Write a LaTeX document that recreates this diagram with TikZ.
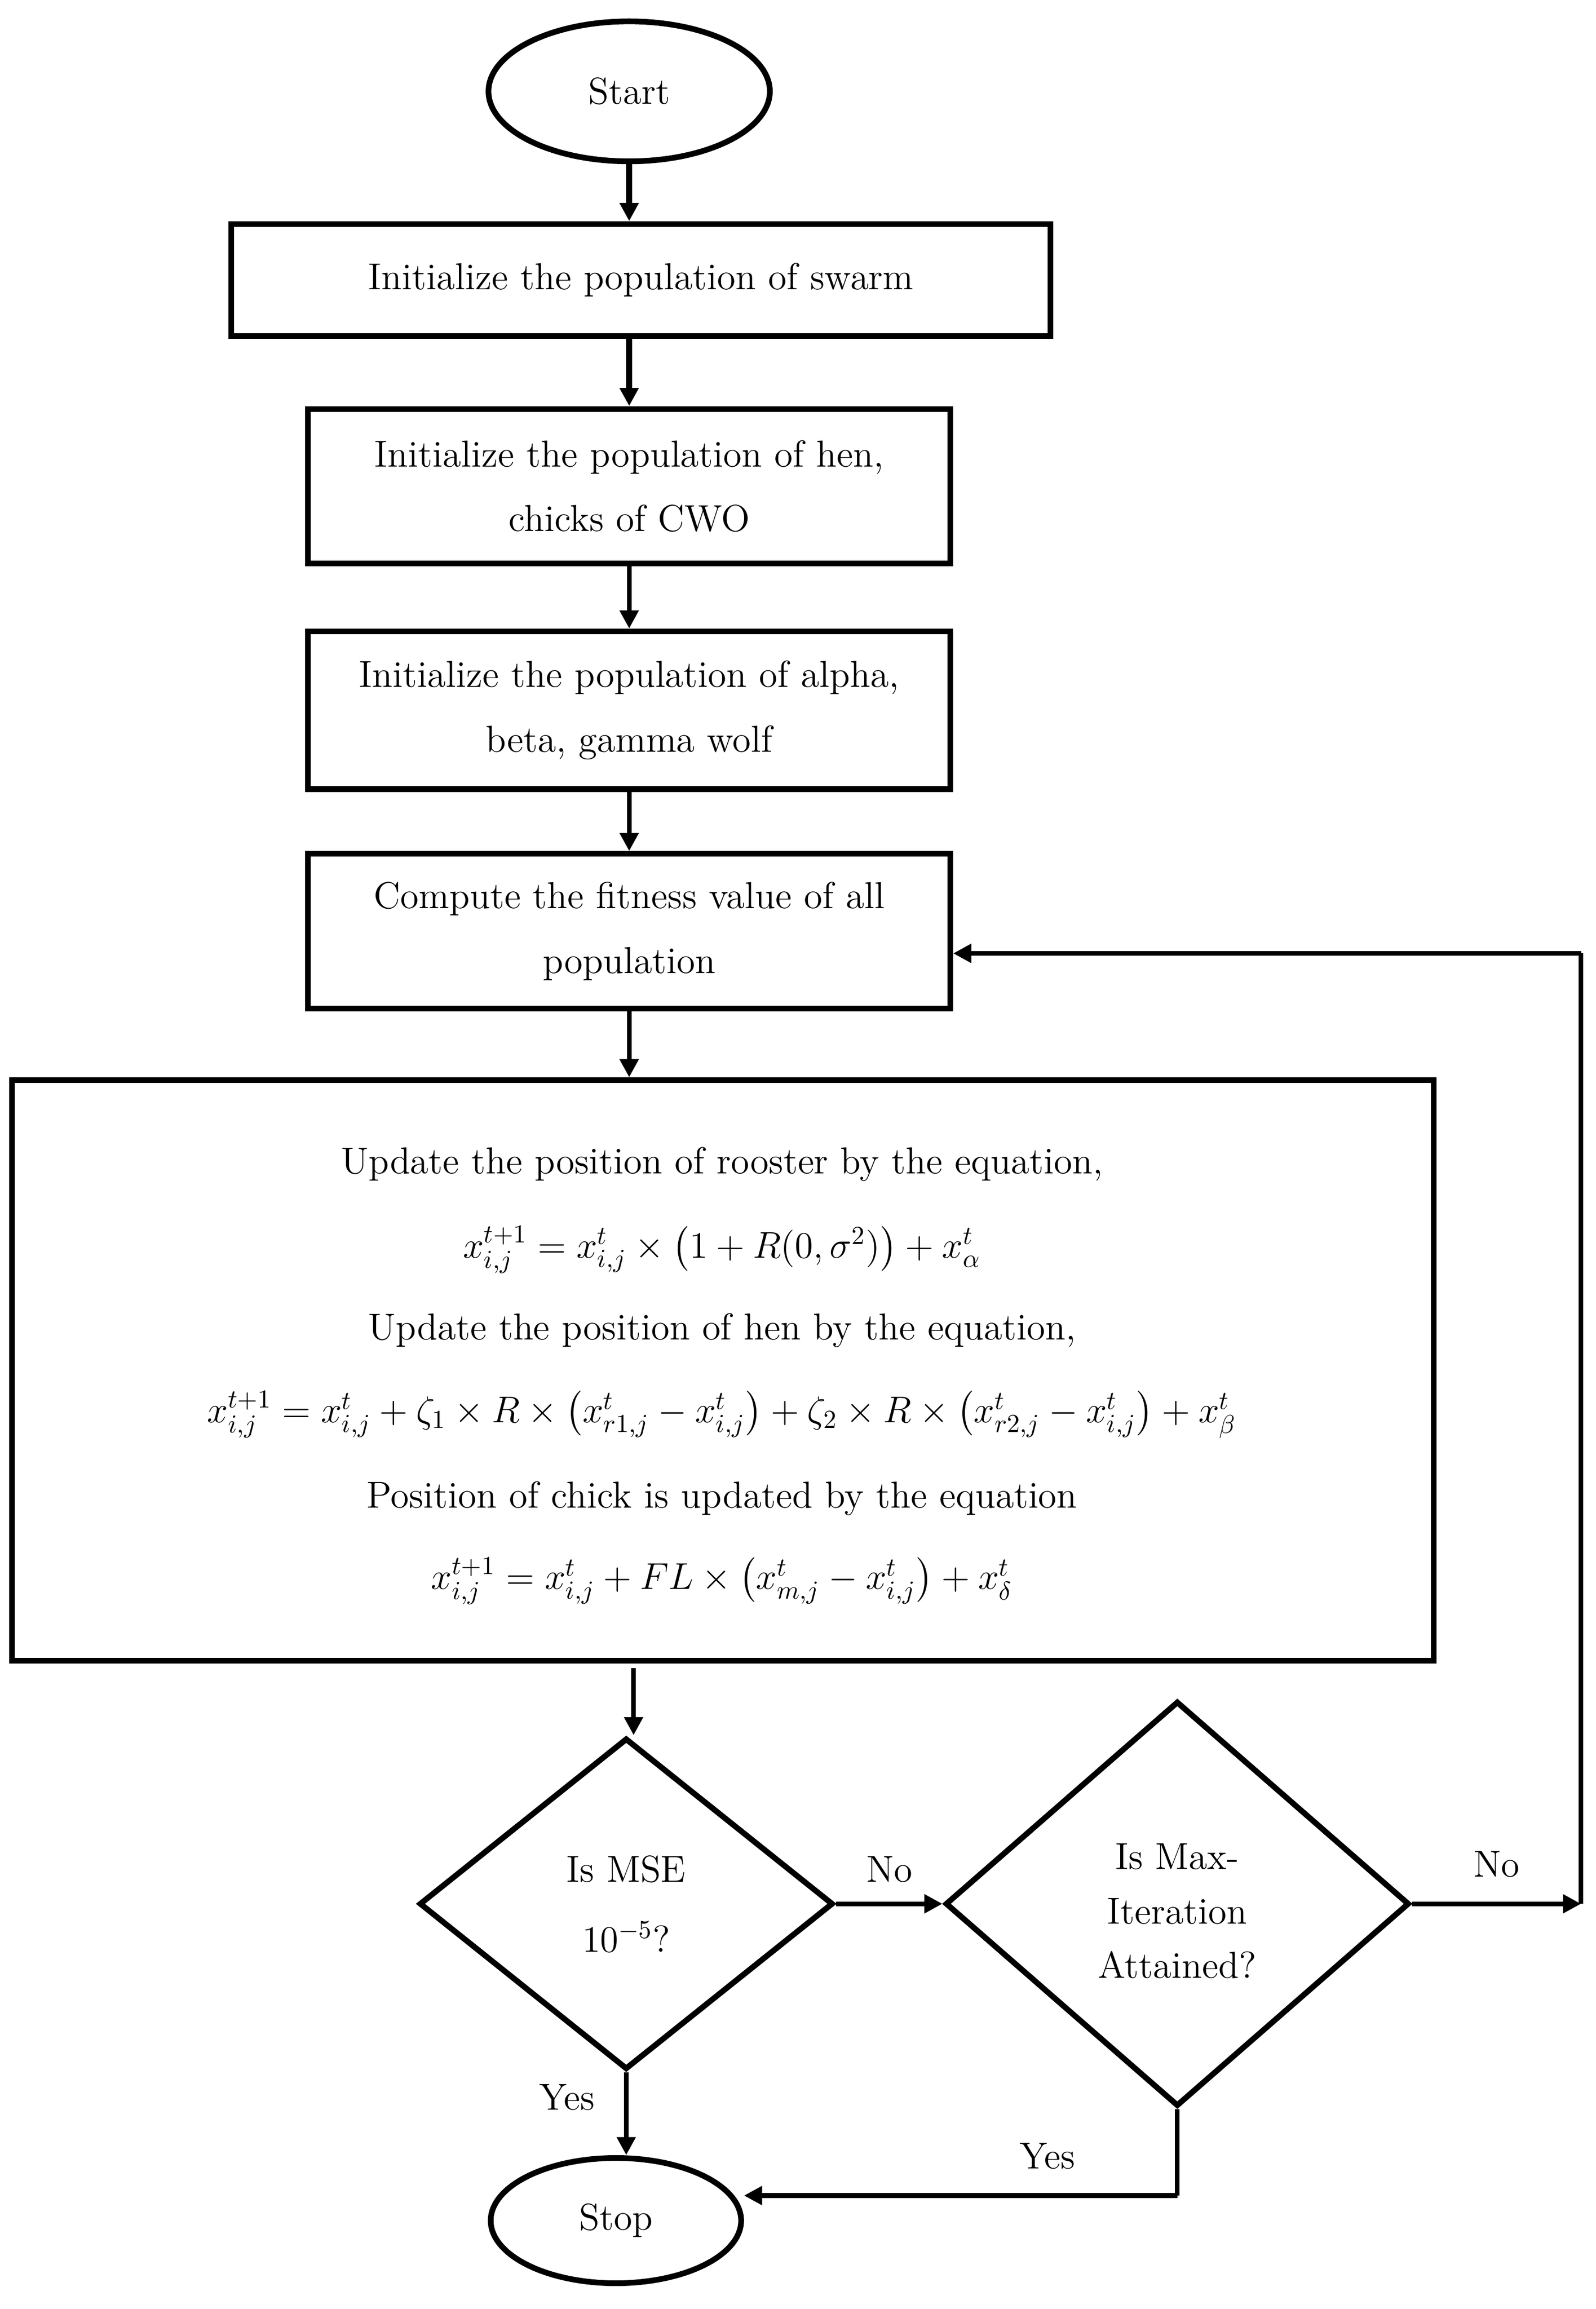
\documentclass[tikz,border=0pt]{standalone}
\usepackage{amsmath}
\usetikzlibrary{shapes.geometric,arrows.meta}
\begin{document}
\begin{tikzpicture}[x=0.02cm,y=-0.02cm,
  font=\fontsize{14.5}{17}\selectfont,
  box/.style={draw,line width=2.2pt,rectangle,align=center,inner sep=0pt},
  oval/.style={draw,line width=2.2pt,ellipse,inner sep=0pt},
  dia/.style={draw,line width=2.2pt,diamond,aspect=1.25,align=center,inner sep=0pt},
  arr/.style={line width=1.8pt,-{Triangle[length=7pt,width=7pt]}},
  ln/.style={line width=1.8pt}]
\useasboundingbox (0,0) rectangle (1083,1567);
\node[oval,minimum width=3.82cm,minimum height=1.9cm] (start) at (427,62) {Start};
\node[box,minimum width=11.12cm,minimum height=1.52cm] (b1) at (435,190) {Initialize the population of swarm};
\node[box,minimum width=8.72cm,minimum height=2.1cm] (b2) at (427,330) {Initialize the population of hen,\\[8pt] chicks of CWO};
\node[box,minimum width=8.72cm,minimum height=2.14cm] (b3) at (427,482) {Initialize the population of alpha,\\[8pt] beta, gamma wolf};
\node[box,minimum width=8.72cm,minimum height=2.1cm] (b4) at (427,632) {Compute the fitness value of all\\[8pt] population};
\node[box,minimum width=19.3cm,minimum height=7.88cm] (big) at (490.5,930) {};
\node (t1) at (490,790) {Update the position of rooster by the equation,};
\node (t2) at (490,848) {$x_{i,j}^{t+1}=x_{i,j}^{t}\times\big(1+R(0,\sigma^2)\big)+x_{\alpha}^{t}$};
\node (t3) at (490,903) {Update the position of hen by the equation,};
\node (t4) at (490,960) {$x_{i,j}^{t+1}=x_{i,j}^{t}+\zeta_1\times R\times\big(x_{r1,j}^{t}-x_{i,j}^{t}\big)+\zeta_2\times R\times\big(x_{r2,j}^{t}-x_{i,j}^{t}\big)+x_{\beta}^{t}$};
\node (t5) at (490,1017) {Position of chick is updated by the equation};
\node (t6) at (490,1073) {$x_{i,j}^{t+1}=x_{i,j}^{t}+FL\times\big(x_{m,j}^{t}-x_{i,j}^{t}\big)+x_{\delta}^{t}$};
\node[dia,minimum width=5.62cm,minimum height=4.5cm] (d1) at (425,1292) {};
\node[align=center] (d1t) at (425,1292) {Is MSE\\[10pt] $10^{-5}$?};
\node[dia,minimum width=6.3cm,minimum height=5.5cm] (d2) at (799,1292) {};
\node[align=center] (d2t) at (799,1297) {Is Max-\\[4pt] Iteration\\[4pt] Attained?};
\node[oval,minimum width=3.4cm,minimum height=1.7cm] (stop) at (418,1507) {Stop};
\coordinate (bb) at (430,1132);
\coordinate (r1) at (1073,1292);
\coordinate (r2) at (1073,647);
\coordinate (y1) at (799,1490);
\draw[arr,line width=2.4pt] (start) -- (start|-b1.north);
\draw[arr,line width=2.4pt] (b1.south-|b2) -- (b2);
\draw[arr] (b2) -- (b3);
\draw[arr] (b3) -- (b4);
\draw[arr] (b4) -- (b4|-big.north);
\draw[arr] (bb) -- (bb|-d1.north);
\draw[arr] (d1) -- node[above=4pt]{No} (d2);
\draw[arr] (d2.east) -- node[above=6pt]{No} (r1);
\draw[ln] (r1) -- (r2);
\draw[arr] (r2) -- (b4.east|-r2);
\draw[arr] (d1.south) -- node[left=8pt,pos=0.3]{Yes} (d1.south|-stop.north);
\draw[ln] (d2.south) -- (y1);
\draw[arr] (y1) -- node[above=6pt,pos=0.3]{Yes} (stop.east|-y1);
\end{tikzpicture}
\end{document}
